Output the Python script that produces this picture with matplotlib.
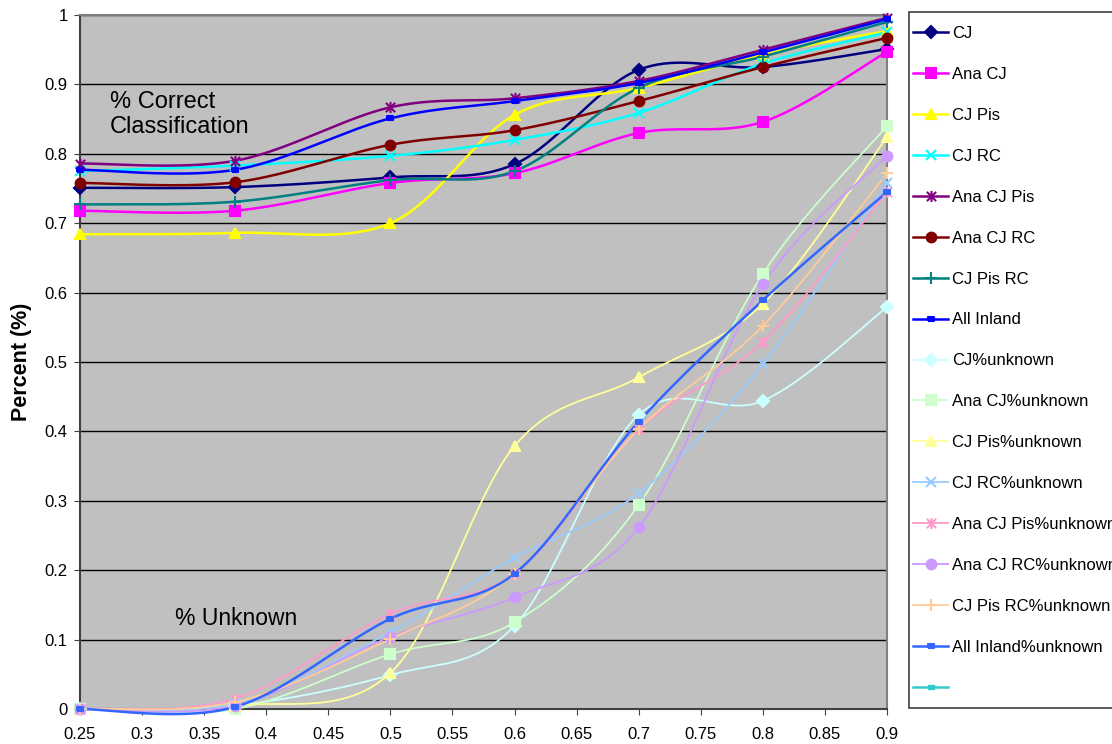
import numpy as np
import matplotlib
matplotlib.use("Agg")
import matplotlib.pyplot as plt
from matplotlib.lines import Line2D
from matplotlib.path import Path
from matplotlib.patches import Rectangle

plt.rcParams['font.family'] = ['Liberation Sans', 'DejaVu Sans']

# Threshold values on the x axis
thresholds = [0.25, 0.375, 0.5, 0.6, 0.7, 0.8, 0.9]

# Percent correct classification
cj = [0.751, 0.752, 0.766, 0.785, 0.921, 0.925, 0.951]
ana_cj = [0.718, 0.718, 0.758, 0.772, 0.830, 0.846, 0.947]
cj_pis = [0.684, 0.686, 0.700, 0.856, 0.895, 0.943, 0.977]
cj_rc = [0.775, 0.783, 0.797, 0.820, 0.859, 0.930, 0.975]
ana_cj_pis = [0.786, 0.790, 0.867, 0.880, 0.905, 0.950, 0.996]
ana_cj_rc = [0.758, 0.759, 0.813, 0.834, 0.876, 0.925, 0.967]
cj_pis_rc = [0.727, 0.731, 0.762, 0.775, 0.895, 0.940, 0.990]
all_inland = [0.777, 0.777, 0.851, 0.876, 0.902, 0.946, 0.994]

# Percent unknown
cj_unk = [0.0, 0.005, 0.049, 0.120, 0.424, 0.444, 0.579]
ana_cj_unk = [0.0, 0.0, 0.079, 0.125, 0.294, 0.627, 0.840]
cj_pis_unk = [0.0, 0.005, 0.052, 0.379, 0.478, 0.584, 0.824]
cj_rc_unk = [0.0, 0.008, 0.111, 0.218, 0.311, 0.497, 0.758]
ana_cj_pis_unk = [0.0, 0.015, 0.137, 0.195, 0.403, 0.529, 0.745]
ana_cj_rc_unk = [0.0, 0.005, 0.104, 0.161, 0.262, 0.612, 0.797]
cj_pis_rc_unk = [0.0, 0.010, 0.101, 0.195, 0.403, 0.552, 0.772]
all_inland_unk = [0.0, 0.003, 0.130, 0.195, 0.414, 0.589, 0.745]

x_ticks = [0.25, 0.3, 0.35, 0.4, 0.45, 0.5, 0.55, 0.6, 0.65, 0.7, 0.75, 0.8, 0.85, 0.9]
x_tick_labels = ["0.25", "0.3", "0.35", "0.4", "0.45", "0.5", "0.55", "0.6",
                 "0.65", "0.7", "0.75", "0.8", "0.85", "0.9"]
y_ticks = [0, 0.1, 0.2, 0.3, 0.4, 0.5, 0.6, 0.7, 0.8, 0.9, 1.0]
y_tick_labels = ["0", "0.1", "0.2", "0.3", "0.4", "0.5", "0.6", "0.7", "0.8", "0.9", "1"]

# Star marker: an X crossed by a vertical stroke
asterisk = Path([(-1, -1), (1, 1), (-1, 1), (1, -1), (0, -1.2), (0, 1.2)],
                [Path.MOVETO, Path.LINETO, Path.MOVETO, Path.LINETO, Path.MOVETO, Path.LINETO])
dash = [(-1, -0.45), (1, -0.45), (1, 0.45), (-1, 0.45), (-1, -0.45)]

series = [
    ("CJ", cj, "#000080", "D", 6, 1.8),
    ("Ana CJ", ana_cj, "#FF00FF", "s", 7, 1.8),
    ("CJ Pis", cj_pis, "#FFFF00", "^", 7, 1.8),
    ("CJ RC", cj_rc, "#00FFFF", "x", 7, 1.8),
    ("Ana CJ Pis", ana_cj_pis, "#800080", asterisk, 8, 1.8),
    ("Ana CJ RC", ana_cj_rc, "#800000", "o", 7, 1.8),
    ("CJ Pis RC", cj_pis_rc, "#008080", "+", 8, 1.8),
    ("All Inland", all_inland, "#0000FF", dash, 5, 1.8),
    ("CJ%unknown", cj_unk, "#CCFFFF", "D", 6, 1.3),
    ("Ana CJ%unknown", ana_cj_unk, "#CCFFCC", "s", 7, 1.3),
    ("CJ Pis%unknown", cj_pis_unk, "#FFFF99", "^", 7, 1.3),
    ("CJ RC%unknown", cj_rc_unk, "#99CCFF", "x", 7, 1.3),
    ("Ana CJ Pis%unknown", ana_cj_pis_unk, "#FF99CC", asterisk, 8, 1.3),
    ("Ana CJ RC%unknown", ana_cj_rc_unk, "#CC99FF", "o", 7, 1.3),
    ("CJ Pis RC%unknown", cj_pis_rc_unk, "#FFCC99", "+", 8, 1.3),
    ("All Inland%unknown", all_inland_unk, "#3366FF", dash, 5, 1.8),
]


def smooth(xs, ys, n=40):
    """Catmull-Rom style Bezier smoothing through the given points."""
    p = np.column_stack([xs, ys]).astype(float)
    p = np.vstack([p[0], p, p[-1]])
    out = []
    t = np.linspace(0, 1, n)[:, None]
    for i in range(1, len(p) - 2):
        p0, p1, p2, p3 = p[i - 1], p[i], p[i + 1], p[i + 2]
        c1 = p1 + (p2 - p0) / 6.0
        c2 = p2 - (p3 - p1) / 6.0
        seg = ((1 - t) ** 3) * p1 + 3 * ((1 - t) ** 2) * t * c1 + 3 * (1 - t) * t ** 2 * c2 + t ** 3 * p2
        out.append(seg if i == 1 else seg[1:])
    seg = np.vstack(out)
    return seg[:, 0], seg[:, 1]


W, H = 1112, 744
fig = plt.figure(figsize=(W / 100, H / 100), dpi=100)
ax = fig.add_axes([80 / W, 1 - 709 / H, 807 / W, 694 / H])
ax.set_facecolor("#C0C0C0")

handles = []
for label, vals, color, marker, ms, lw in series:
    sx, sy = smooth(thresholds, vals)
    ax.plot(sx, sy, color=color, lw=lw, zorder=3, clip_on=False)
    ax.plot(thresholds, vals, linestyle="none", marker=marker, ms=ms, color=color,
            mec=color, mfc=color, mew=1.5, zorder=4, clip_on=False)
    handles.append(Line2D([], [], color=color, lw=lw, marker=marker, ms=ms,
                          mec=color, mfc=color, mew=1.5))

# empty trailing series
handles.append(Line2D([], [], color="#33CCCC", lw=1.8, marker=dash, ms=5,
                      mec="#33CCCC", mfc="#33CCCC"))
labels = [s[0] for s in series] + [" "]

ax.set_xlim(0.25, 0.9)
ax.set_ylim(0, 1)
ax.set_xticks(x_ticks)
ax.set_xticklabels(x_tick_labels, fontsize=12)
ax.set_yticks(y_ticks)
ax.set_yticklabels(y_tick_labels, fontsize=12)
ax.tick_params(axis="both", direction="out", length=4, color="#404040")
ax.tick_params(axis="x", pad=9)
ax.tick_params(axis="y", pad=5)
ax.yaxis.grid(True, color="black", lw=1)
ax.set_axisbelow(True)
for side in ["left", "bottom"]:
    ax.spines[side].set_color("#404040")
    ax.spines[side].set_linewidth(1.5)
for side in ["top", "right"]:
    ax.spines[side].set_color("#808080")
    ax.spines[side].set_linewidth(1.5)

ax.set_ylabel("Percent (%)", fontsize=15.5, fontweight="bold", labelpad=9)

ax.text(0.274, 0.857, "% Correct\nClassification", fontsize=17, va="center",
        ha="left", linespacing=1.18)
ax.text(0.3265, 0.1297, "% Unknown", fontsize=16.5, va="center", ha="left")

# legend box drawn separately so the entries can sit close to its left edge
fig.patches.append(Rectangle((909 / W, 1 - 708 / H), 260 / W, 696 / H,
                             transform=fig.transFigure, facecolor="white",
                             edgecolor="#404040", lw=1.2, zorder=0))
leg = fig.legend(handles, labels, loc="upper left",
                 bbox_to_anchor=(913 / W, 1 - 26 / H), fontsize=12,
                 frameon=False, handlelength=2.1, handletextpad=0.25,
                 labelspacing=1.555, borderpad=0, borderaxespad=0)

fig.savefig("out.png", dpi=100, facecolor="white")
